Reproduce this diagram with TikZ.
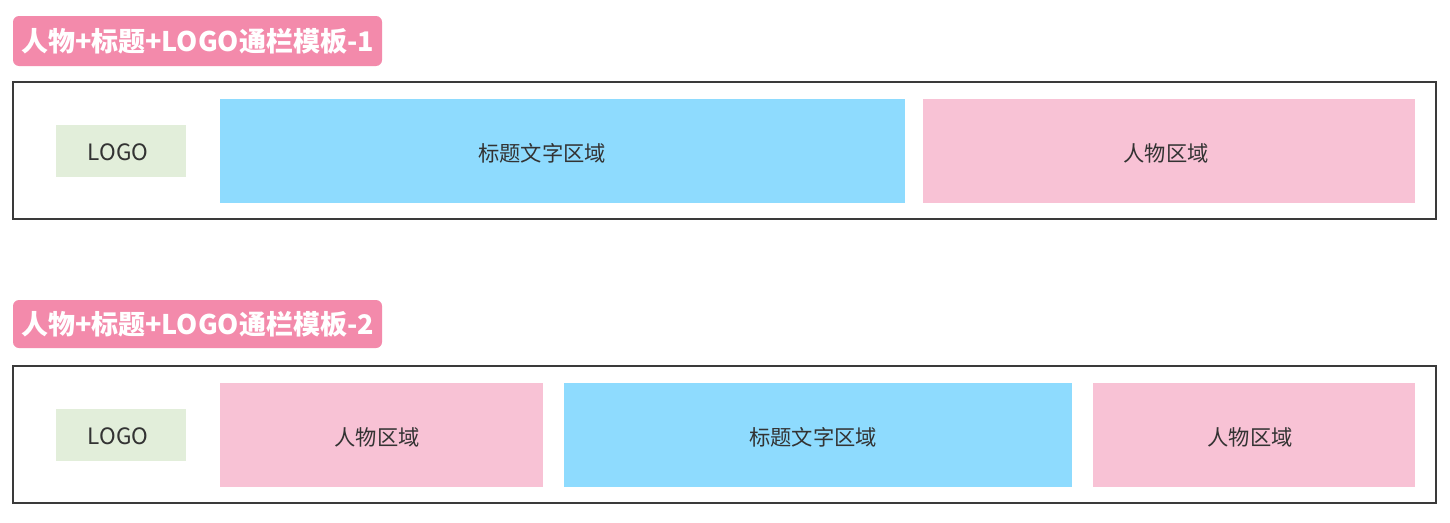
\documentclass[tikz,border=0pt]{standalone}
\usepackage{fontspec}
\setmainfont{Noto Sans CJK SC}
\definecolor{badge}{HTML}{F38AAB}
\definecolor{bluebox}{HTML}{8EDBFE}
\definecolor{pinkbox}{HTML}{F8C2D5}
\definecolor{greenbox}{HTML}{E2EEDA}
\definecolor{frameline}{HTML}{3A3A3A}
\definecolor{txt}{HTML}{333333}
\begin{document}
\begin{tikzpicture}[x=1pt,y=-1pt,
  badgebox/.style={fill=badge,rounded corners=6pt},
  framebox/.style={draw=frameline,line width=1.5pt},
  lbl/.style={text=txt,font=\fontsize{21.3}{24}\selectfont},
  lglbl/.style={text=txt,font=\fontsize{22.5}{26}\selectfont},
  ttl/.style={text=white,font=\fontsize{27}{30}\selectfont\bfseries,anchor=center}]
\useasboundingbox (0,0) rectangle (1450,522);
% section 1
\path[badgebox] (13,16) rectangle (382,66);
\node[ttl] (t1) at (197.5,41) {人物+标题+LOGO通栏模板-1};
\draw[framebox] (13,82) rectangle (1436,219);
\fill[greenbox] (56,125) rectangle (186,177);
\node[lglbl] (l1) at (118,152) {LOGO};
\fill[bluebox] (220,99) rectangle (905,203);
\node[lbl] (b1) at (542,153) {标题文字区域};
\fill[pinkbox] (923,99) rectangle (1415,203);
\node[lbl] (p1) at (1166,153) {人物区域};
% section 2
\path[badgebox] (13,300) rectangle (382,348);
\node[ttl] (t2) at (197.5,324) {人物+标题+LOGO通栏模板-2};
\draw[framebox] (13,366) rectangle (1436,503);
\fill[greenbox] (56,409) rectangle (186,461);
\node[lglbl] (l2) at (118,436) {LOGO};
\fill[pinkbox] (220,383) rectangle (543,487);
\node[lbl] (p2) at (377,437) {人物区域};
\fill[bluebox] (564,383) rectangle (1072,487);
\node[lbl] (b2) at (813,437) {标题文字区域};
\fill[pinkbox] (1093,383) rectangle (1415,487);
\node[lbl] (p3) at (1250,437) {人物区域};
\end{tikzpicture}
\end{document}
